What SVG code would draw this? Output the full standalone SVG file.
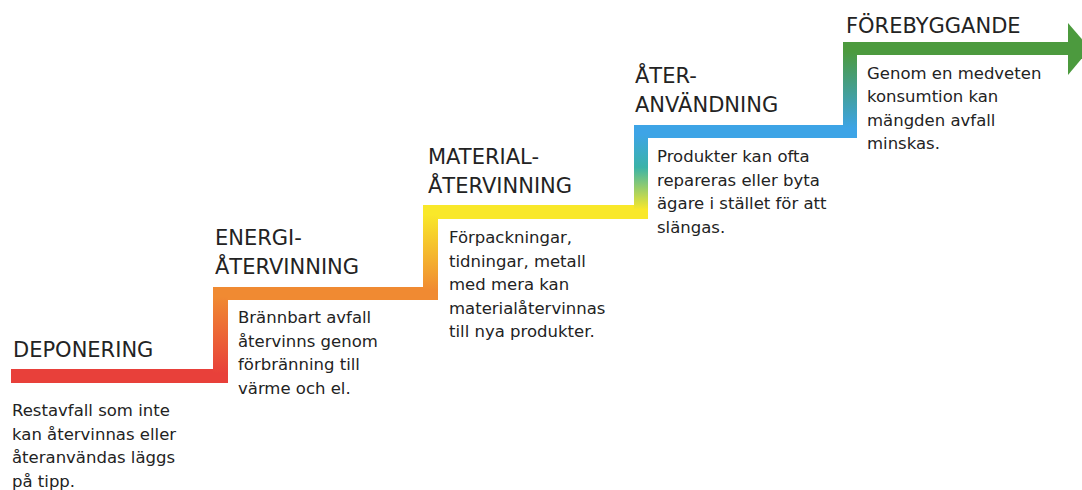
<svg xmlns="http://www.w3.org/2000/svg" width="1082" height="490" viewBox="0 0 1082 490">
<style>
.t{font-family:"DejaVu Sans","Liberation Sans",sans-serif;font-size:21px;fill:#232323}
.b{font-family:"DejaVu Sans","Liberation Sans",sans-serif;font-size:16.5px;fill:#232323}
</style>
<defs>
<linearGradient id="g1" x1="0" y1="0" x2="0" y2="1"><stop offset="0.1" stop-color="#f08a32"/><stop offset="0.9" stop-color="#e8403a"/></linearGradient>
<linearGradient id="g2" x1="0" y1="0" x2="0" y2="1"><stop offset="0.1" stop-color="#f9e82a"/><stop offset="0.9" stop-color="#f08a32"/></linearGradient>
<linearGradient id="g3" x1="0" y1="0" x2="0" y2="1"><stop offset="0.1" stop-color="#3da4e6"/><stop offset="0.45" stop-color="#3ab3a8"/><stop offset="0.9" stop-color="#f9e82a"/></linearGradient>
<linearGradient id="g4" x1="0" y1="0" x2="0" y2="1"><stop offset="0.1" stop-color="#4c9a3e"/><stop offset="0.9" stop-color="#3da4e6"/></linearGradient>
</defs>
<rect width="1082" height="490" fill="#ffffff"/>
<g id="connectors">
<rect x="11" y="369" width="217" height="14" fill="#e8403a"/>
<rect x="213" y="287" width="15" height="96" fill="url(#g1)"/>
<rect x="228" y="287" width="210" height="13" fill="#f08a32"/>
<rect x="423" y="205" width="15" height="95" fill="url(#g2)"/>
<rect x="438" y="205" width="210" height="14" fill="#f9e82a"/>
<rect x="634" y="125" width="14" height="94" fill="url(#g3)"/>
<rect x="648" y="125" width="209" height="13" fill="#3da4e6"/>
<rect x="843" y="42" width="14" height="96" fill="url(#g4)"/>
<rect x="857" y="42" width="212" height="13" fill="#4c9a3e"/>
<polygon points="1068,23 1090,48.5 1068,75" fill="#4c9a3e"/>
</g>
<g id="deponering">
<text class="t" x="13" y="357">DEPONERING</text>
<text class="b" x="12"><tspan x="12" y="416">Restavfall som inte</tspan><tspan x="12" y="439.5">kan återvinnas eller</tspan><tspan x="12" y="463">återanvändas läggs</tspan><tspan x="12" y="486.5">på tipp.</tspan></text>
</g>
<g id="energiatervinning">
<text class="t"><tspan x="215" y="245">ENERGI-</tspan><tspan x="215" y="274">ÅTERVINNING</tspan></text>
<text class="b"><tspan x="238" y="323">Brännbart avfall</tspan><tspan x="238" y="346.5">återvinns genom</tspan><tspan x="238" y="370">förbränning till</tspan><tspan x="238" y="393.5">värme och el.</tspan></text>
</g>
<g id="materialatervinning">
<text class="t"><tspan x="428" y="164">MATERIAL-</tspan><tspan x="428" y="193">ÅTERVINNING</tspan></text>
<text class="b"><tspan x="449" y="243">Förpackningar,</tspan><tspan x="449" y="266.5">tidningar, metall</tspan><tspan x="449" y="290">med mera kan</tspan><tspan x="449" y="313.5">materialåtervinnas</tspan><tspan x="449" y="337">till nya produkter.</tspan></text>
</g>
<g id="ateranvandning">
<text class="t"><tspan x="635" y="83">ÅTER-</tspan><tspan x="635" y="112">ANVÄNDNING</tspan></text>
<text class="b"><tspan x="657" y="162">Produkter kan ofta</tspan><tspan x="657" y="185.5">repareras eller byta</tspan><tspan x="657" y="209">ägare i stället för att</tspan><tspan x="657" y="232.5">slängas.</tspan></text>
</g>
<g id="forebyggande">
<text class="t" x="846" y="33">FÖREBYGGANDE</text>
<text class="b"><tspan x="867" y="79">Genom en medveten</tspan><tspan x="867" y="102">konsumtion kan</tspan><tspan x="867" y="125.5">mängden avfall</tspan><tspan x="867" y="149">minskas.</tspan></text>
</g>
</svg>
